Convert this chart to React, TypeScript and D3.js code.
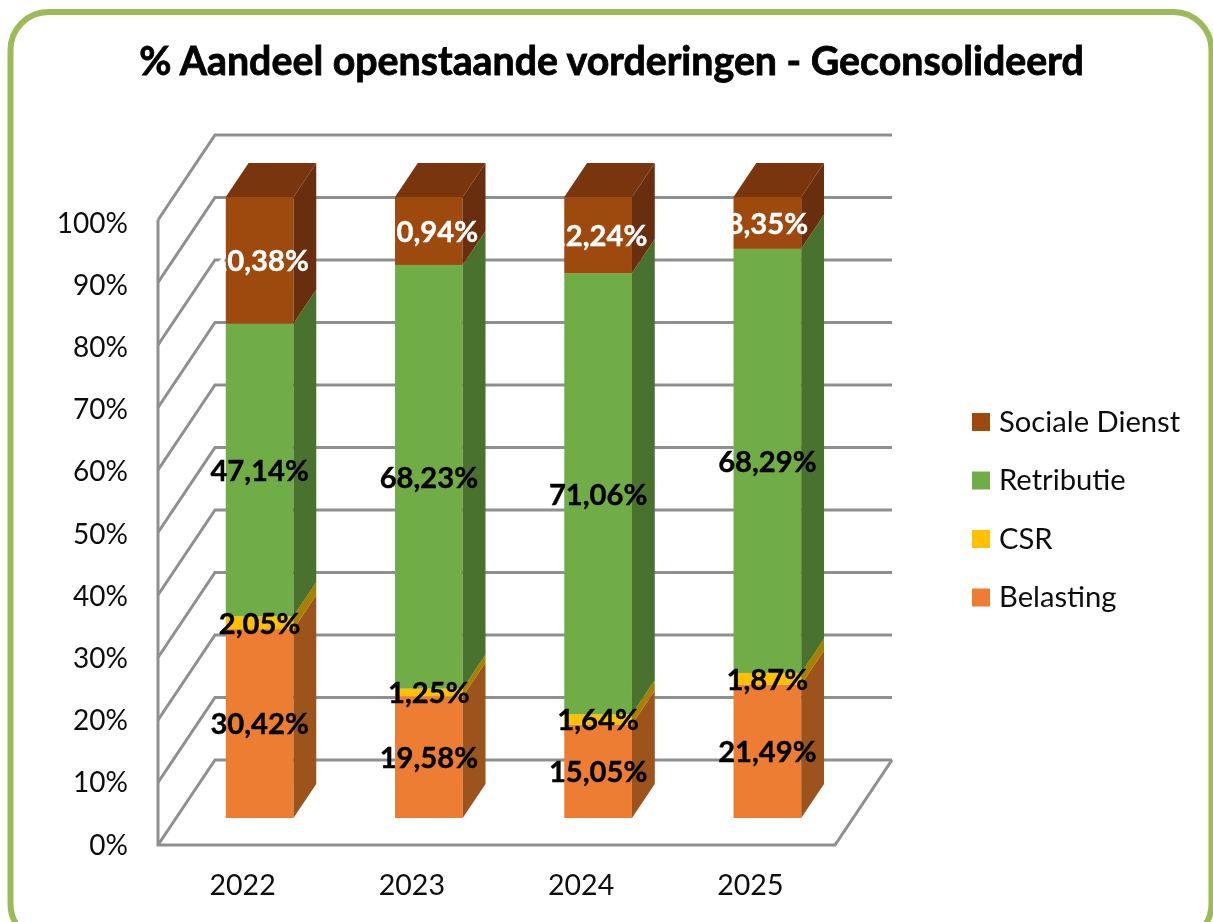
import React from 'react';
import * as d3 from 'd3';

const years = ['2022', '2023', '2024', '2025'];
const seriesNames = ['Belasting', 'CSR', 'Retributie', 'Sociale Dienst'];
const belasting = [30.42, 19.58, 15.05, 21.49];
const csr = [2.05, 1.25, 1.64, 1.87];
const retributie = [47.14, 68.23, 71.06, 68.29];
const socialeDienst = [20.38, 10.94, 12.24, 8.35];
const ticks = [0, 10, 20, 30, 40, 50, 60, 70, 80, 90, 100];

const frontColors = ['#ED7D31', '#FFC000', '#70AD47', '#9E480E'];
const sideColors = ['#9C521F', '#A88000', '#4A722F', '#682F09'];
const labelColors = ['#000', '#000', '#000', '#fff'];
const topColor = '#793508';
const gridColor = '#8F8F8F';
const font = 'Lato, sans-serif';

// oblique projection of the 3d box
const depthX = 57;
const depthY = -85;
const barDepth = 0.4;
const barShiftX = 17;

const rows = years.map((year, i) => ({
  year,
  Belasting: belasting[i],
  CSR: csr[i],
  Retributie: retributie[i],
  'Sociale Dienst': socialeDienst[i],
}));
const stacked = d3.stack<any>().keys(seriesNames)(rows);

const x = d3.scaleBand().domain(years).range([158, 835]).paddingInner(0.6).paddingOuter(0.3);
const yWall = d3.scaleLinear().domain([0, 100]).range([845, 220]);
const yBar = d3.scaleLinear().domain([0, 100]).range([818, 197]);
const yTick = d3.scaleLinear().domain([0, 100]).range([845, 223]);
const line = d3.line();

const fmt = (v: number) => v.toFixed(2).replace('.', ',') + '%';

export default function App() {
  const bw = x.bandwidth();
  const [left, right] = x.range();
  const floorY = yWall(0);

  return (
    <svg width={1213} height={922} style={{ position: 'absolute', left: 0, top: 0, display: 'block' }} fontFamily={font}>
      <defs>
        <filter id="soft" x="-5%" y="-5%" width="110%" height="110%">
          <feGaussianBlur stdDeviation="0.55" />
        </filter>
      </defs>
      <rect width={1213} height={922} fill="#fff" />
      <g filter="url(#soft)">
        <rect x={10.5} y={12} width={1201} height={930} rx={38} fill="none" stroke="#9BBB59" strokeWidth={6} />
        <text x={611.5} y={75} textAnchor="middle" fontSize={39.3} fontWeight={700} fill="#000" stroke="#000" strokeWidth={0.8}>
          % Aandeel openstaande vorderingen - Geconsolideerd
        </text>

        {/* walls and floor */}
        <g fill="none" stroke={gridColor} strokeWidth={3}>
          {ticks.map(t => (
            <path
              key={t}
              d={line([
                [left, yWall(t)],
                [left + depthX, yWall(t) + depthY],
                [right + depthX, yWall(t) + depthY],
              ]) as string}
            />
          ))}
          <path d={line([[left, yWall(100)], [left, floorY], [right, floorY], [right + depthX, floorY + depthY]]) as string} />
        </g>

        {ticks.map(t => (
          <text key={t} x={128} y={yTick(t)} dy="0.34em" textAnchor="end" fontSize={28} fill="#111">
            {t}%
          </text>
        ))}
        {years.map(year => (
          <text key={year} x={(x(year) as number) + bw / 2} y={885} dy="0.34em" textAnchor="middle" fontSize={28.5} fill="#111">
            {year}
          </text>
        ))}

        {/* bars */}
        {years.map((year, i) => {
          const x0 = (x(year) as number) + barShiftX;
          const x1 = x0 + bw;
          const dx = depthX * barDepth;
          const dy = depthY * barDepth;
          return (
            <g key={year}>
              {stacked.map((s, k) => {
                const yTop = yBar(s[i][1]);
                const yBottom = yBar(s[i][0]);
                return (
                  <g key={s.key}>
                    <rect x={x0} y={yTop} width={bw} height={yBottom - yTop} fill={frontColors[k]} />
                    <path
                      d={line([[x1, yTop], [x1 + dx, yTop + dy], [x1 + dx, yBottom + dy], [x1, yBottom]]) + 'Z'}
                      fill={sideColors[k]}
                    />
                  </g>
                );
              })}
              <path
                d={line([
                  [x0, yBar(100)],
                  [x0 + dx, yBar(100) + dy],
                  [x1 + dx, yBar(100) + dy],
                  [x1, yBar(100)],
                ]) + 'Z'}
                fill={topColor}
              />
            </g>
          );
        })}

        {/* data labels, the white ones vanish where they leave the bar */}
        {years.map((year, i) =>
          stacked.map((s, k) => (
            <text
              key={s.key}
              x={(x(year) as number) + barShiftX + bw / 2}
              y={yBar((s[i][0] + s[i][1]) / 2) + 1}
              dy="0.34em"
              textAnchor="middle"
              fontSize={29.2}
              fontWeight={700}
              fill={labelColors[k]}
              stroke={labelColors[k]}
              strokeWidth={0.4}
            >
              {fmt(s[i][1] - s[i][0])}
            </text>
          ))
        )}

        {/* legend */}
        {[...seriesNames].reverse().map((name, i) => {
          const color = frontColors[seriesNames.indexOf(name)];
          const cy = 422 + i * 58.5;
          return (
            <g key={name}>
              <rect x={972} y={cy - 9} width={18} height={18} fill={color} />
              <text x={999} y={cy} dy="0.34em" fontSize={29.2} fill="#111">
                {name}
              </text>
            </g>
          );
        })}
      </g>
    </svg>
  );
}
